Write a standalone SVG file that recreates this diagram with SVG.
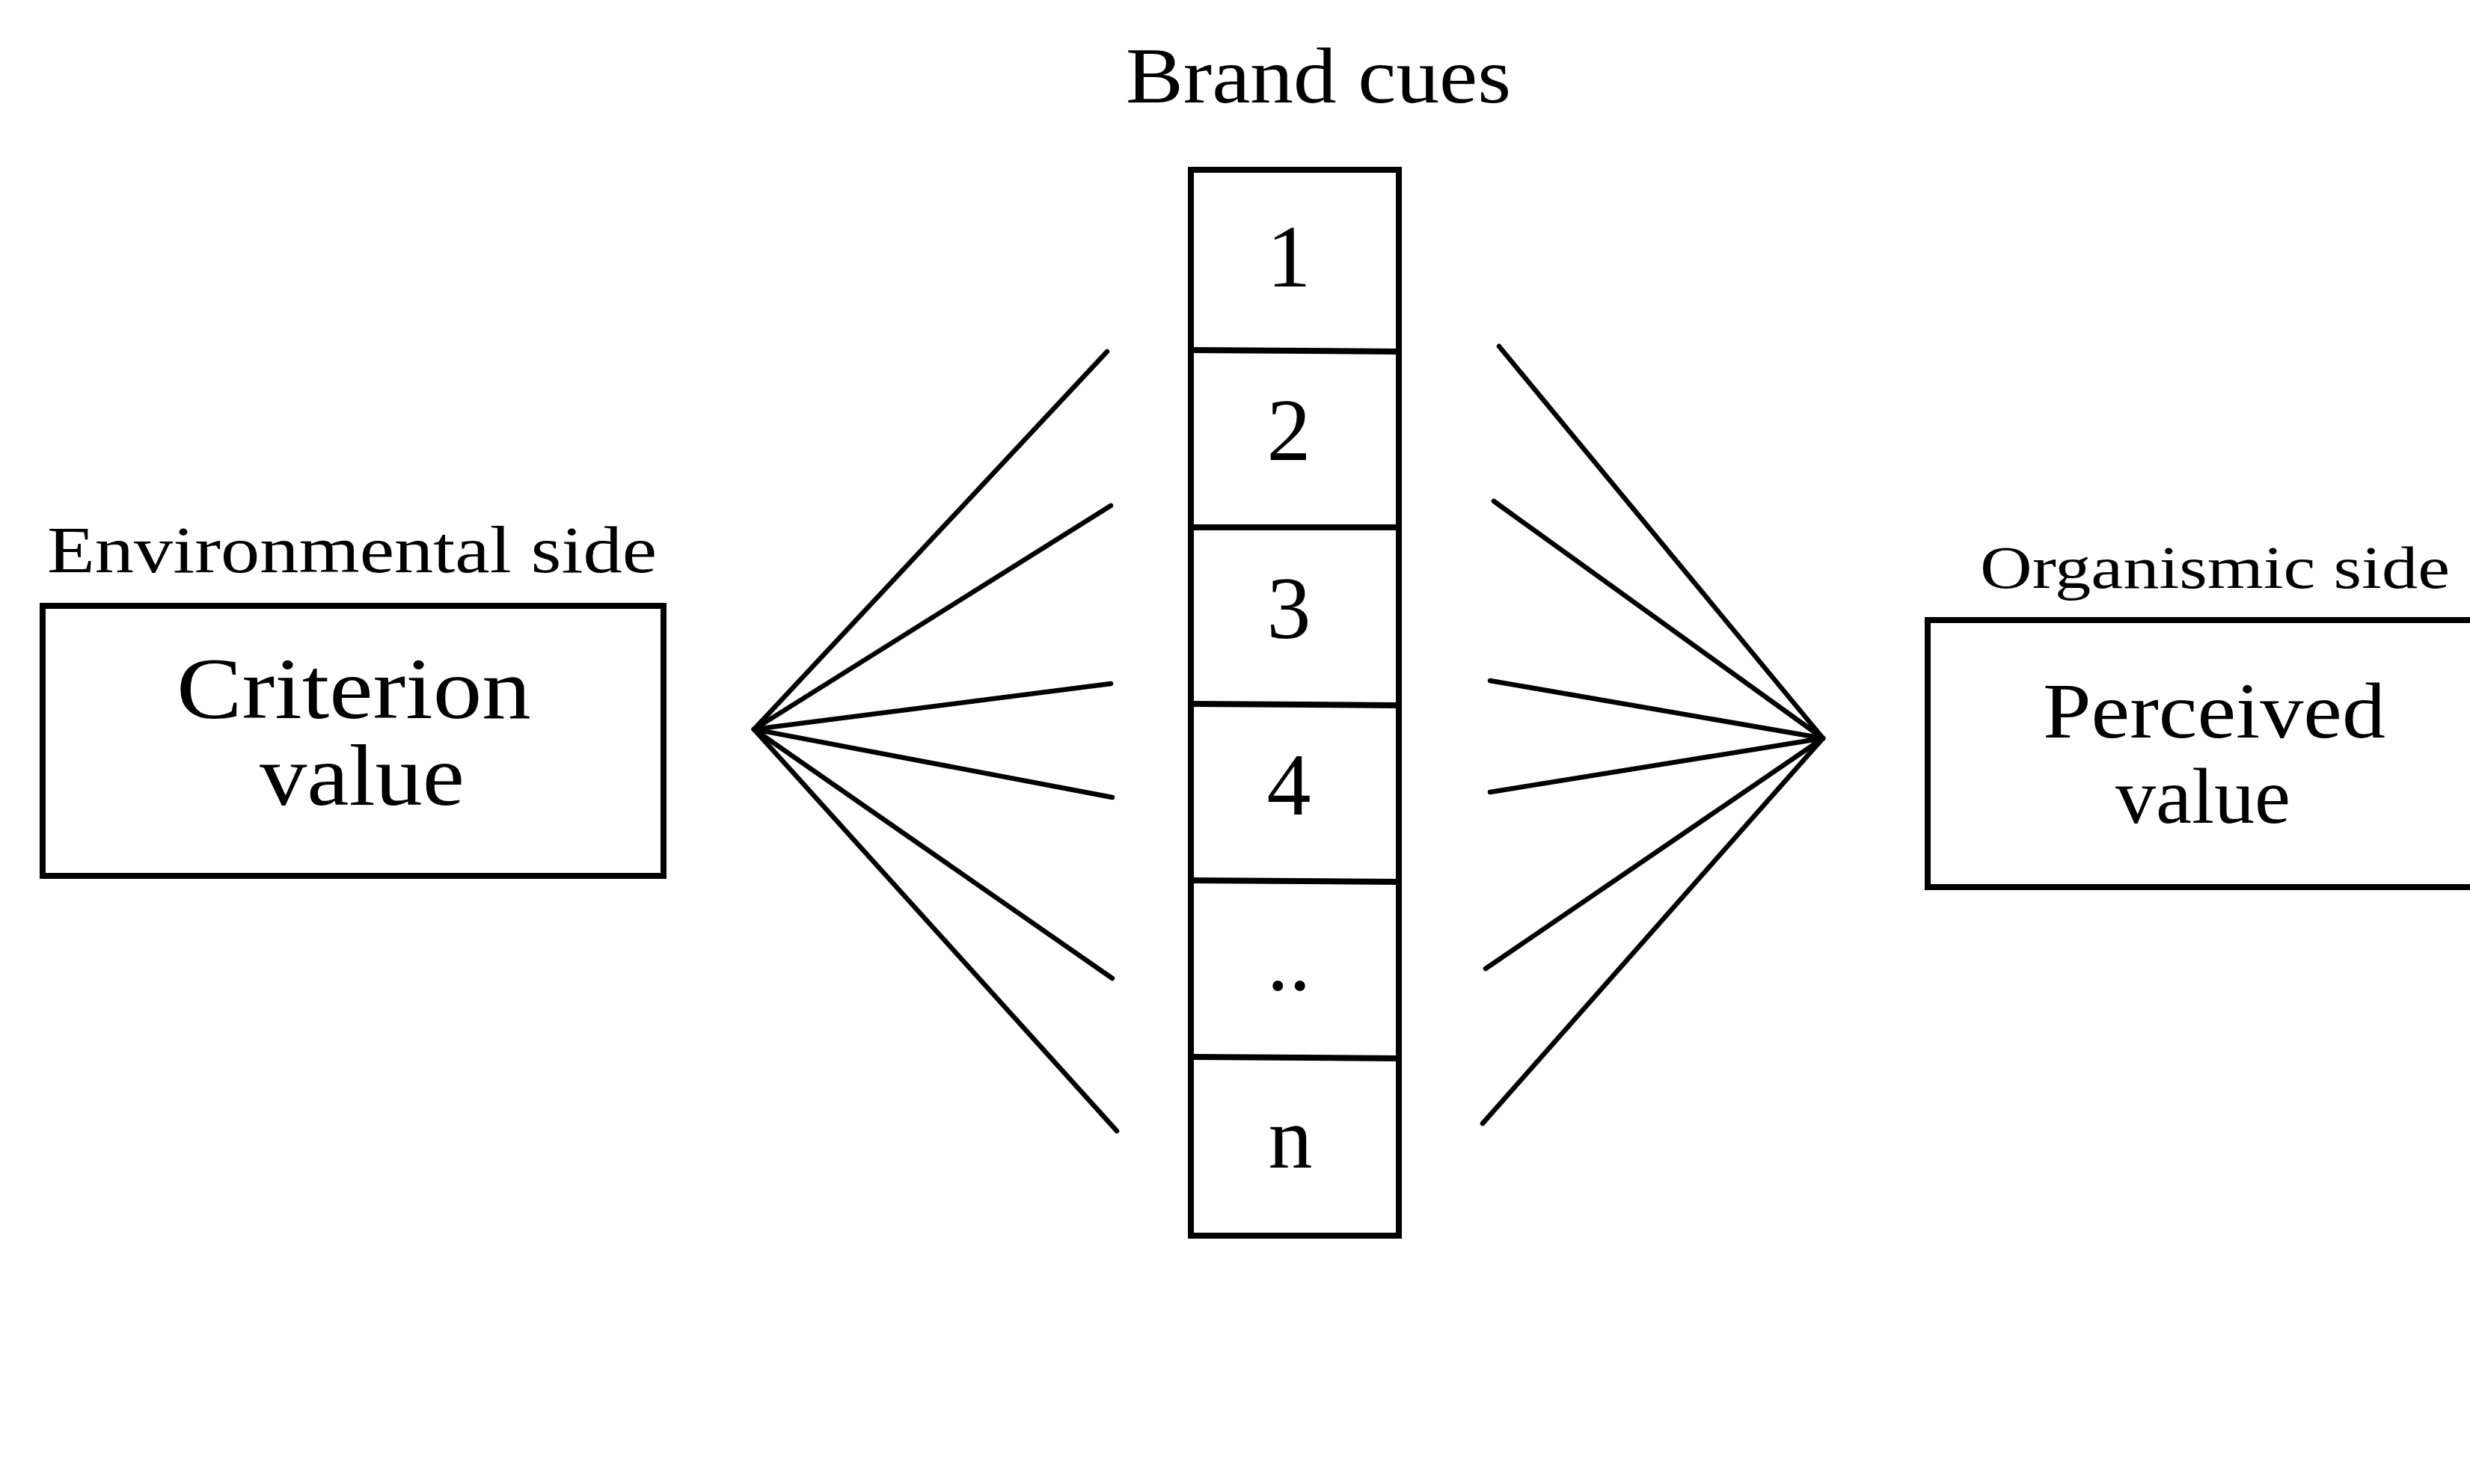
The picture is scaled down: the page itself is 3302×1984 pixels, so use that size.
<svg xmlns="http://www.w3.org/2000/svg" width="3302" height="1984" viewBox="0 0 3302 1984">
  <style>
    text { font-family: "Liberation Serif", "Times New Roman", serif; fill: #000; }
    .box { fill: none; stroke: #000; stroke-width: 8; }
    .div { stroke: #000; stroke-width: 8; }
    .link { stroke: #000; stroke-width: 6.5; stroke-linecap: round; fill: none; }
    .digit { font-size: 118px; text-anchor: middle; }
  </style>
  <rect width="3302" height="1984" fill="#fff"/>

  <!-- Left: environmental side -->
  <g id="criterion">
    <text x="63" y="765" font-size="88" textLength="815" lengthAdjust="spacingAndGlyphs">Environmental side</text>
    <rect class="box" x="57" y="810" width="830" height="361"/>
    <text x="473" y="960" font-size="116" text-anchor="middle" textLength="474" lengthAdjust="spacingAndGlyphs">Criterion</text>
    <text x="484" y="1076" font-size="116" text-anchor="middle" textLength="274" lengthAdjust="spacingAndGlyphs">value</text>
  </g>

  <!-- Centre: column of brand cues -->
  <g id="cues">
    <text x="1505" y="137" font-size="106" textLength="515" lengthAdjust="spacingAndGlyphs">Brand cues</text>
    <rect class="box" x="1592" y="227" width="278" height="1425"/>
    <line class="div" x1="1592" y1="468" x2="1870" y2="470"/>
    <line class="div" x1="1592" y1="705" x2="1870" y2="705"/>
    <line class="div" x1="1592" y1="941" x2="1870" y2="943"/>
    <line class="div" x1="1592" y1="1177" x2="1870" y2="1179"/>
    <line class="div" x1="1592" y1="1413" x2="1870" y2="1415"/>
    <text class="digit" x="1723" y="383">1</text>
    <text class="digit" x="1723" y="615">2</text>
    <text class="digit" x="1723" y="853">3</text>
    <text class="digit" x="1723" y="1089">4</text>
    <text class="digit" x="1723" y="1323">..</text>
    <text class="digit" x="1725" y="1561">n</text>
  </g>

  <!-- Right: organismic side (box runs past the right edge) -->
  <g id="perceived">
    <text x="2647" y="786" font-size="80" textLength="628" lengthAdjust="spacingAndGlyphs">Organismic side</text>
    <rect class="box" x="2577" y="829" width="760" height="357"/>
    <text x="2960" y="986" font-size="106" text-anchor="middle" textLength="458" lengthAdjust="spacingAndGlyphs">Perceived</text>
    <text x="2945" y="1100" font-size="106" text-anchor="middle" textLength="234" lengthAdjust="spacingAndGlyphs">value</text>
  </g>

  <!-- Fan of links between cues and each side -->
  <g id="connectors">
    <line class="link" x1="1008" y1="975" x2="1480" y2="470"/>
    <line class="link" x1="1008" y1="975" x2="1485" y2="676"/>
    <line class="link" x1="1008" y1="975" x2="1485" y2="914"/>
    <line class="link" x1="1008" y1="975" x2="1487" y2="1066"/>
    <line class="link" x1="1008" y1="975" x2="1487" y2="1308"/>
    <line class="link" x1="1008" y1="975" x2="1493" y2="1512"/>

    <line class="link" x1="2437" y1="987" x2="2004" y2="463"/>
    <line class="link" x1="2437" y1="987" x2="1997" y2="670"/>
    <line class="link" x1="2437" y1="987" x2="1992" y2="910"/>
    <line class="link" x1="2437" y1="987" x2="1992" y2="1059"/>
    <line class="link" x1="2437" y1="987" x2="1986" y2="1295"/>
    <line class="link" x1="2437" y1="987" x2="1982" y2="1502"/>
  </g>
</svg>
